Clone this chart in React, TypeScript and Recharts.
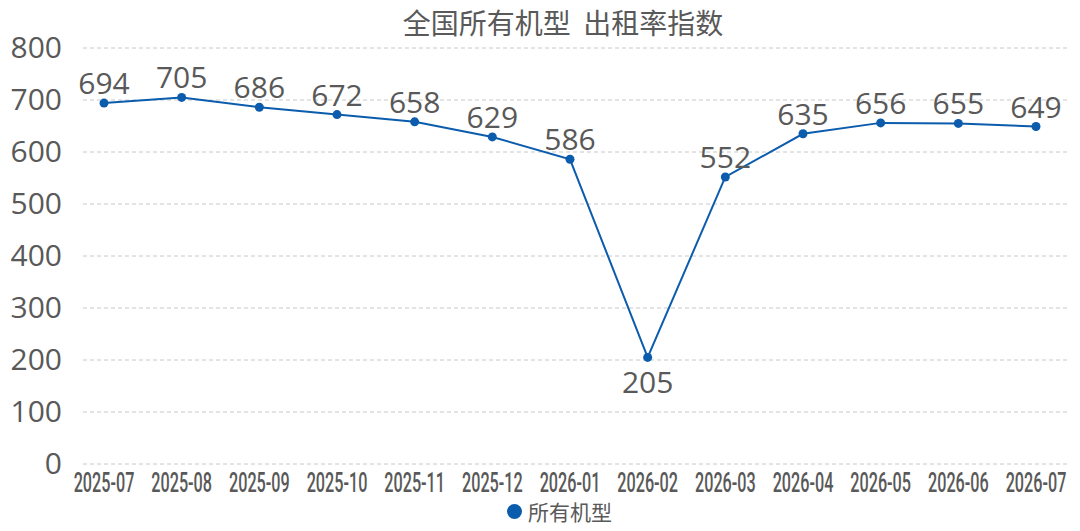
import React from 'react';
import { LineChart, Line, XAxis, YAxis, CartesianGrid, LabelList } from 'recharts';

const months = [
  '2025-07', '2025-08', '2025-09', '2025-10', '2025-11', '2025-12',
  '2026-01', '2026-02', '2026-03', '2026-04', '2026-05', '2026-06', '2026-07',
];
const rentalIndex = [694, 705, 686, 672, 658, 629, 586, 205, 552, 635, 656, 655, 649];
const yTicks = [0, 100, 200, 300, 400, 500, 600, 700, 800];

const seriesName = '所有机型';
const title = '全国所有机型  出租率指数';

const BLUE = '#0b5cad';
const GREY = '#595959';
const FONT = "'Open Sans', 'Noto Sans CJK SC', sans-serif";

const data = months.map((m, i) => ({ month: m, value: rentalIndex[i] }));

// narrow, tall month labels like the original condensed face
const XTick = (props: any) => {
  const { x, y, payload } = props;
  return (
    <g transform={`translate(${x},${y + 28}) scale(0.6,1)`}>
      <text x={0} y={0} textAnchor="middle" fill={GREY} fontFamily="Roboto, sans-serif" fontWeight={500} fontSize={27}>
        {payload.value}
      </text>
    </g>
  );
};

const YTick = (props: any) => {
  const { x, y, payload } = props;
  return (
    <text x={x} y={y + 10} textAnchor="end" fill={GREY} fontFamily={FONT} fontSize={30}>
      {payload.value}
    </text>
  );
};

const ValueLabel = (props: any) => {
  const { x, y, value } = props;
  // the dip at 2026-02 carries its label under the point
  const below = value < 300;
  return (
    <text
      x={x}
      y={below ? y + 36 : y - 9}
      textAnchor="middle"
      fill={GREY}
      fontFamily={FONT}
      fontSize={30}
    >
      {value}
    </text>
  );
};

export default function App() {
  return (
    <div style={{ position: 'absolute', left: 0, top: 0, width: 1080, height: 531, background: '#fff', fontFamily: FONT }}>
      <div
        style={{
          position: 'absolute', top: 2, left: 0, width: 1126, textAlign: 'center',
          fontSize: 28, color: GREY, whiteSpace: 'pre', fontFamily: "'Noto Sans CJK SC', sans-serif",
        }}
      >
        {title}
      </div>
      <LineChart width={1080} height={531} data={data} margin={{ top: 48, right: 12, left: 0, bottom: 27 }}>
        <CartesianGrid vertical={false} stroke="#c8c8c8" strokeDasharray="4 3" />
        <XAxis
          dataKey="month"
          axisLine={false}
          tickLine={false}
          tickSize={0}
          tickMargin={0}
          height={40}
          interval={0}
          padding={{ left: 21, right: 32 }}
          tick={<XTick />}
        />
        <YAxis
          domain={[0, 800]}
          ticks={yTicks}
          width={83}
          axisLine={false}
          tickLine={false}
          tickSize={0}
          tickMargin={21}
          tick={<YTick />}
        />
        <Line
          type="linear"
          dataKey="value"
          name={seriesName}
          stroke={BLUE}
          strokeWidth={2}
          dot={{ r: 4.5, fill: BLUE, stroke: BLUE, strokeWidth: 0 }}
          isAnimationActive={false}
        >
          <LabelList dataKey="value" content={<ValueLabel />} />
        </Line>
      </LineChart>
      <div
        style={{
          position: 'absolute', top: 496, left: 507, display: 'flex', alignItems: 'center',
          fontSize: 21, color: GREY, fontFamily: "'Noto Sans CJK SC', sans-serif",
        }}
      >
        <span style={{ display: 'inline-block', width: 15, height: 15, borderRadius: '50%', background: BLUE, marginRight: 6 }} />
        {seriesName}
      </div>
    </div>
  );
}
